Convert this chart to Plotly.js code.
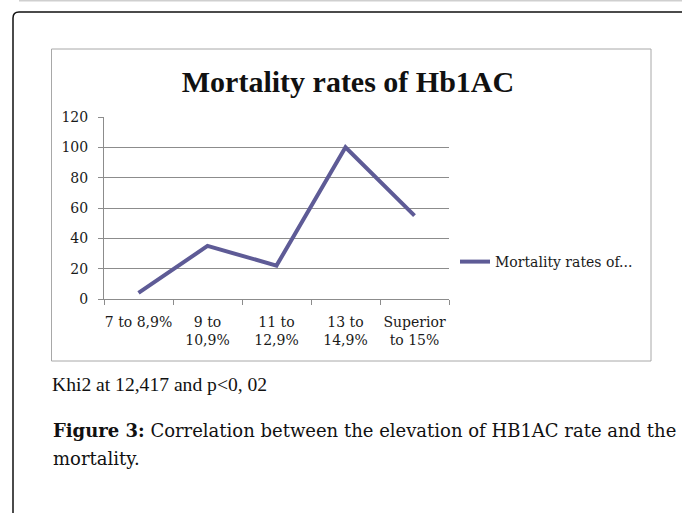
<!DOCTYPE html>
<html>
<head>
<meta charset="utf-8">
<script src="https://cdn.plot.ly/plotly-3.0.1.min.js"></script>
<style>
html,body{margin:0;padding:0;background:#fff;}
#chart{width:682px;height:513px;}
</style>
</head>
<body>
<div id="chart"></div>
<script>
// ---- data ----
const categories = ["7 to 8,9%", "9 to<br>10,9%", "11 to<br>12,9%", "13 to<br>14,9%", "Superior<br>to 15%"];
const mortalityRates = [4, 35, 22, 100, 55];
const seriesName = "Mortality rates of...";
const yTicks = [0, 20, 40, 60, 80, 100, 120];

const titleText = "Mortality rates of Hb1AC";
const noteText = "Khi2 at 12,417 and p<0, 02";
const captionLine1 = "<b>Figure 3:</b> Correlation between the elevation of HB1AC rate and the";
const captionLine2 = "mortality.";

// ---- layout helpers (pixel -> paper) ----
const W = 682, H = 513;
const px = v => v / W;
const py = v => 1 - v / H;

const gridCol = "#8c8c8c";
const tickFont = {family: "DejaVu Serif", size: 14, color: "#1a1a1a"};

const trace = {
  type: "scatter",
  mode: "lines",
  x: categories,
  y: mortalityRates,
  name: seriesName,
  line: {color: "#5e5b96", width: 4},
  showlegend: true
};

const outerPath = `M ${px(13)},${py(520)} L ${px(13)},${py(18)} Q ${px(13)},${py(12)} ${px(19)},${py(12)} L ${px(690)},${py(12)}`;

const layout = {
  width: W, height: H,
  margin: {l: 0, r: 0, t: 0, b: 0},
  paper_bgcolor: "#ffffff",
  plot_bgcolor: "rgba(0,0,0,0)",
  title: {
    text: titleText,
    font: {family: "Liberation Serif", size: 30, color: "#111", weight: "bold"},
    xref: "paper", yref: "paper",
    x: px(348), y: py(81), xanchor: "center", yanchor: "middle"
  },
  xaxis: {
    type: "category",
    domain: [px(104), px(449)],
    range: [-0.5, categories.length - 0.5],
    tickson: "boundaries",
    ticks: "outside", ticklen: 5, tickcolor: gridCol, tickwidth: 1,
    showline: true, linecolor: gridCol, linewidth: 1,
    showgrid: false,
    tickfont: tickFont,
    tickangle: 0,
    ticklabelstandoff: 10,
    fixedrange: true
  },
  yaxis: {
    domain: [py(299), py(117)],
    range: [0, 120],
    tickvals: yTicks,
    ticks: "outside", ticklen: 5, tickcolor: gridCol, tickwidth: 1,
    showline: true, linecolor: gridCol, linewidth: 1,
    showgrid: true, gridcolor: gridCol, gridwidth: 1,
    zeroline: false,
    tickfont: tickFont,
    ticklabelstandoff: 7,
    fixedrange: true
  },
  legend: {
    x: px(455), y: py(262), xanchor: "left", yanchor: "middle",
    font: {family: "DejaVu Serif", size: 14, color: "#1a1a1a"},
    bgcolor: "rgba(0,0,0,0)", borderwidth: 0
  },
  shapes: [
    {type: "line", xref: "paper", yref: "paper", x0: px(19), x1: px(690), y0: py(0.5), y1: py(0.5),
     line: {color: "#cfcfcf", width: 2}},
    {type: "path", xref: "paper", yref: "paper", path: outerPath,
     line: {color: "#111", width: 1.5}},
    {type: "rect", xref: "paper", yref: "paper", x0: px(51.5), x1: px(651), y0: py(49), y1: py(361),
     line: {color: "#a8a8a8", width: 1}}
  ],
  annotations: [
    {text: noteText, xref: "paper", yref: "paper", x: px(50), y: py(384), xanchor: "left", yanchor: "middle",
     showarrow: false, font: {family: "Liberation Serif", size: 19.6, color: "#111"}},
    {text: captionLine1, xref: "paper", yref: "paper", x: px(51), y: py(430), xanchor: "left", yanchor: "middle",
     showarrow: false, font: {family: "DejaVu Serif", size: 18, color: "#111"}},
    {text: captionLine2, xref: "paper", yref: "paper", x: px(51), y: py(458), xanchor: "left", yanchor: "middle",
     showarrow: false, font: {family: "DejaVu Serif", size: 18, color: "#111"}}
  ]
};

Plotly.newPlot("chart", [trace], layout, {displayModeBar: false, staticPlot: true});
</script>
</body>
</html>
